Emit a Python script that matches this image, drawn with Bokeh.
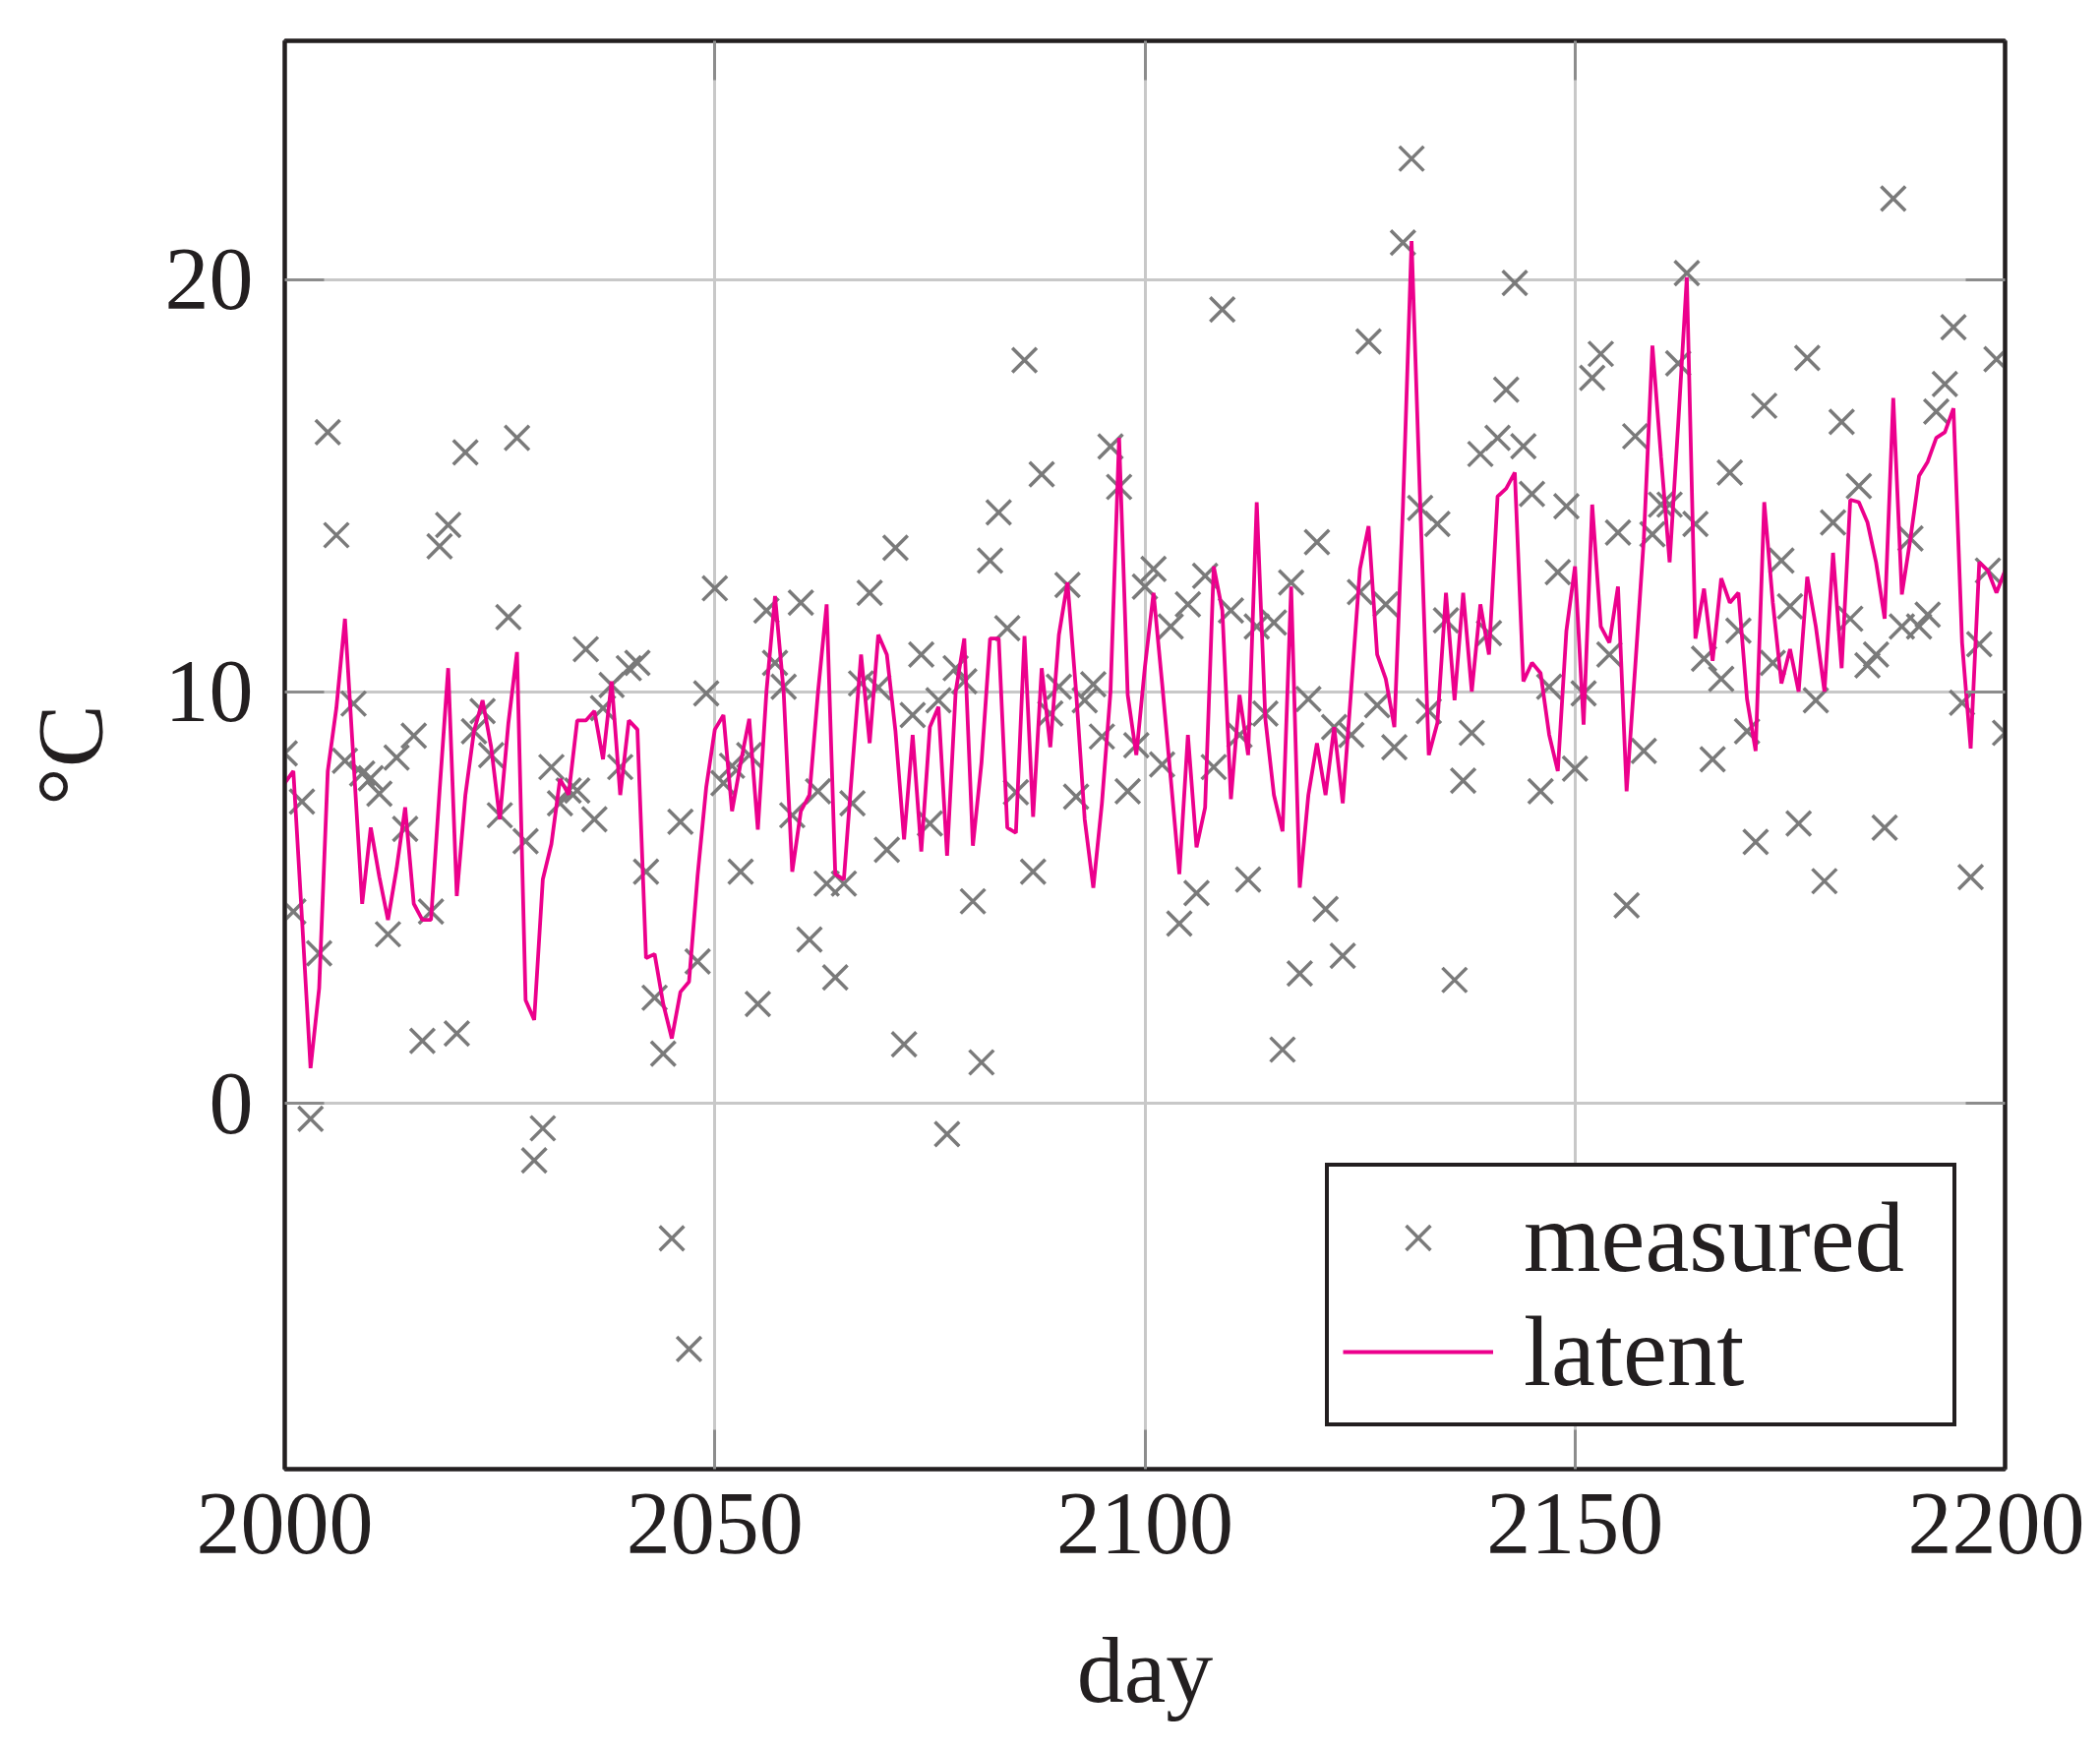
from bokeh.plotting import figure
from bokeh.models import Range1d, FixedTicker, LinearAxis, Legend, LegendItem
from bokeh.embed import file_html
from bokeh.resources import INLINE

days = list(range(2000, 2201))

measured = [
    8.5, 4.66, 7.33, -0.37, 3.65, 16.3, 13.8, 8.32, 9.71, 8.01,
    7.9, 7.52, 4.11, 8.4, 6.67, 8.93, 1.52, 4.66, 13.53, 14.05,
    1.70, 15.81, 9.04, 9.53, 8.46, 7.0, 11.81, 16.16, 6.37, -1.38,
    -0.60, 8.17, 7.29, 7.6, 7.6, 11.03, 6.9, 9.6, 10.16, 8.17,
    10.57, 10.7, 5.63, 2.57, 1.21, -3.27, 6.84, -5.96, 3.45, 9.96,
    12.51, 7.78, 8.2, 5.63, 8.46, 2.42, 11.97, 10.7, 10.12, 7.0,
    12.16, 3.98, 7.58, 5.34, 3.06, 5.34, 7.29, 10.2, 12.4, 10.1,
    6.16, 13.49, 1.44, 9.43, 10.9, 6.8, 9.79, -0.74, 10.57, 10.25,
    4.91, 1.0, 13.18, 14.35, 11.54, 7.56, 18.05, 5.63, 15.28, 9.47,
    10.12, 12.59, 7.45, 9.79, 10.18, 8.91, 15.95, 14.97, 7.58, 8.7,
    12.55, 12.98, 8.23, 11.58, 4.37, 12.12, 5.11, 12.81, 8.17, 19.28,
    11.97, 8.95, 5.44, 11.58, 9.47, 11.68, 1.31, 12.65, 3.16, 9.82,
    13.63, 4.72, 9.14, 3.59, 8.95, 12.42, 18.5, 9.67, 12.12, 8.65,
    20.9, 22.94, 14.46, 9.53, 14.07, 11.73, 3.0, 7.84, 9.0, 15.77,
    11.42, 16.16, 17.33, 19.92, 15.96, 14.8, 7.58, 10.12, 12.9, 14.5,
    8.13, 9.96, 17.62, 18.2, 10.9, 13.86, 4.81, 16.2, 8.56, 13.82,
    14.54, 14.54, 17.97, 20.16, 14.07, 10.8, 8.36, 10.31, 15.32, 11.48,
    9.04, 6.35, 16.94, 10.7, 13.18, 12.07, 6.8, 18.1, 9.79, 5.4,
    14.11, 16.55, 11.77, 14.99, 10.64, 10.9, 6.7, 21.97, 11.58, 13.72,
    11.58, 11.87, 16.8, 17.47, 18.85, 9.73, 5.5, 11.15, 12.94, 18.07,
    9.0,
]

latent = [
    7.78, 8.07, 4.5, 0.86, 2.8, 8.07, 9.6, 11.77, 8.3, 4.85,
    6.7, 5.5, 4.46, 5.7, 7.19, 4.85, 4.46, 4.46, 7.6, 10.57,
    5.04, 7.49, 9.04, 9.79, 8.65, 6.9, 9.24, 10.96, 2.51, 2.03,
    5.44, 6.3, 7.88, 7.5, 9.3, 9.3, 9.53, 8.36, 10.25, 7.49,
    9.3, 9.08, 3.53, 3.63, 2.42, 1.58, 2.71, 2.96, 5.54, 7.68,
    9.08, 9.43, 7.1, 8.27, 9.34, 6.65, 10.0, 12.32, 10.0, 5.63,
    7.1, 7.49, 10.0, 12.12, 5.57, 5.44, 8.2, 10.9, 8.75, 11.38,
    10.9, 9.04, 6.41, 8.95, 6.12, 9.14, 9.63, 6.02, 10.0, 11.29,
    6.26, 8.27, 11.29, 11.29, 6.7, 6.57, 11.35, 6.96, 10.57, 8.65,
    11.38, 12.65, 10.0, 6.9, 5.24, 7.29, 10.0, 16.16, 9.92, 8.46,
    10.6, 12.4, 10.2, 7.9, 5.57, 8.95, 6.22, 7.19, 13.04, 11.97,
    7.39, 9.92, 8.46, 14.6, 9.34, 7.49, 6.61, 12.55, 5.24, 7.49,
    8.75, 7.49, 9.14, 7.29, 10.1, 12.98, 14.02, 10.9, 10.31, 9.14,
    14.5, 20.94, 14.6, 8.46, 9.24, 12.4, 9.79, 12.4, 10.0, 12.12,
    10.9, 14.74, 14.93, 15.32, 10.25, 10.7, 10.45, 8.95, 8.07, 11.48,
    13.04, 9.2, 14.54, 11.58, 11.19, 12.55, 7.58, 10.6, 13.7, 18.4,
    15.7, 13.14, 16.5, 20.06, 11.29, 12.5, 10.75, 12.75, 12.16, 12.4,
    9.82, 8.56, 14.6, 12.16, 10.2, 11.03, 10.0, 12.79, 11.58, 10.0,
    13.37, 10.57, 14.66, 14.6, 14.11, 13.14, 11.77, 17.13, 12.36, 13.72,
    15.24, 15.58, 16.16, 16.3, 16.88, 11.19, 8.62, 13.14, 12.94, 12.4,
    12.94,
]

x_ticks = [2000, 2050, 2100, 2150, 2200]
y_ticks = [0, 10, 20]
x_label = "day"
y_label = "°C"
series_names = ["measured", "latent"]

FONT = "Liberation Serif"
TEXT = "#231f20"
GRID = "#c8c8c8"
TICK = "#8c8c8c"

p = figure(
    output_backend="svg", toolbar_location=None,
    frame_width=1749, frame_height=1452,
    min_border_left=289, min_border_right=81,
    min_border_top=41, min_border_bottom=269,
    x_range=Range1d(2000, 2200), y_range=Range1d(-8.875, 25.8),
    background_fill_color="white", border_fill_color="white",
)
p.outline_line_color = TEXT
p.outline_line_alpha = 1
p.outline_line_width = 4

p.xaxis.ticker = FixedTicker(ticks=x_ticks)
p.yaxis.ticker = FixedTicker(ticks=y_ticks)
p.xgrid.ticker = FixedTicker(ticks=x_ticks)
p.ygrid.ticker = FixedTicker(ticks=y_ticks)
for g in (p.xgrid, p.ygrid):
    g.grid_line_color = GRID
    g.grid_line_alpha = 1
    g.grid_line_width = 3

def style_axis(ax, show_labels=True):
    ax.axis_line_color = TEXT
    ax.axis_line_width = 4
    ax.major_tick_in = 40
    ax.major_tick_out = 0
    ax.major_tick_line_color = TICK
    ax.major_tick_line_width = 3
    ax.minor_tick_line_color = None
    if show_labels:
        ax.major_label_text_font = FONT
        ax.major_label_text_font_size = "90px"
        ax.major_label_text_color = TEXT
        ax.axis_label_text_font = FONT
        ax.axis_label_text_font_size = "96px"
        ax.axis_label_text_font_style = "normal"
        ax.axis_label_text_color = TEXT
    else:
        ax.major_label_text_font_size = "1px"
        ax.major_label_text_alpha = 0
        ax.major_label_standoff = 0

style_axis(p.xaxis[0])
style_axis(p.yaxis[0])
p.xaxis.axis_label = x_label
p.yaxis.axis_label = y_label
p.xaxis.major_label_standoff = 25
p.yaxis.major_label_standoff = 32
p.xaxis.axis_label_standoff = 62
p.yaxis.axis_label_standoff = 40

right_ax = LinearAxis(ticker=FixedTicker(ticks=y_ticks))
top_ax = LinearAxis(ticker=FixedTicker(ticks=x_ticks))
style_axis(right_ax, False)
style_axis(top_ax, False)
p.add_layout(right_ax, "right")
p.add_layout(top_ax, "above")

r_meas = p.scatter(days, measured, marker="x", size=35,
                   line_color="#7a7a7a", line_width=3.5)
r_lat = p.line(days, latent, line_color="#ec008c", line_width=3.8)

legend = Legend(
    items=[LegendItem(label=series_names[0], renderers=[r_meas]),
           LegendItem(label=series_names[1], renderers=[r_lat])],
    location=(1058, 43),
    glyph_width=153, glyph_height=88,
    label_standoff=31, label_width=422, padding=14, spacing=0, margin=0,
    label_text_font=FONT, label_text_font_size="101px", label_text_color=TEXT,
    border_line_color=TEXT, border_line_alpha=1, border_line_width=4,
    background_fill_color="white", background_fill_alpha=1,
)
p.add_layout(legend, "center")

open("out.html", "w").write(file_html(p, INLINE))
